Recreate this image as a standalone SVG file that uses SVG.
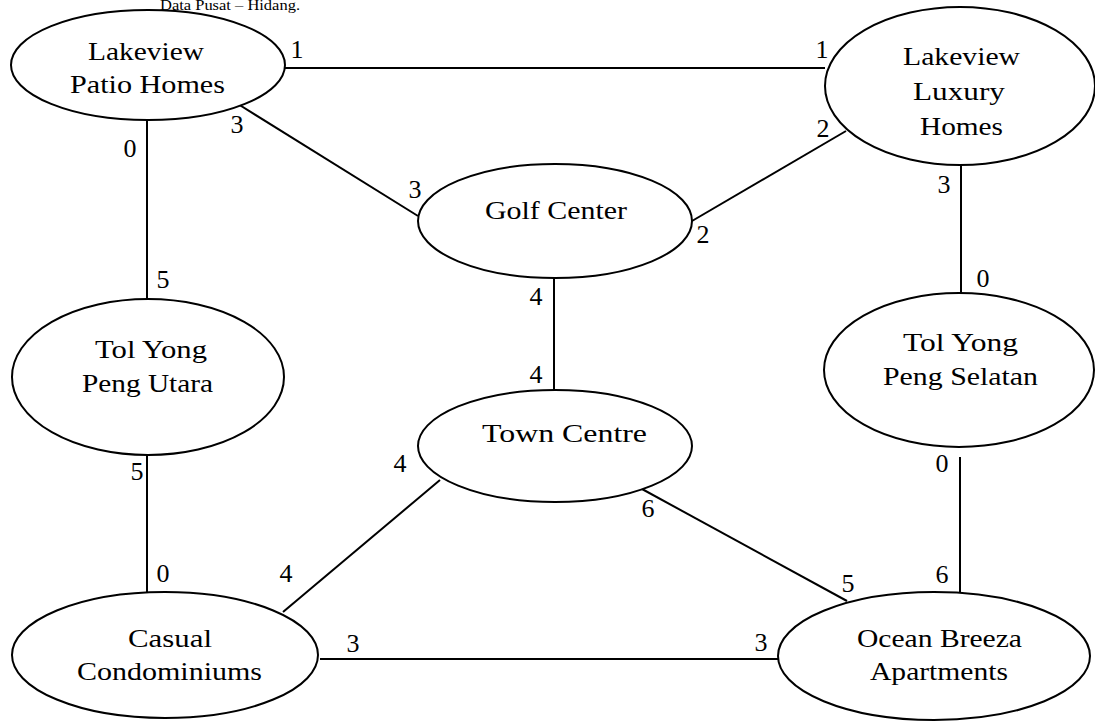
<svg xmlns="http://www.w3.org/2000/svg" width="1095" height="726" viewBox="0 0 1095 726" font-family="'Liberation Serif','Times New Roman',serif">
<style>
.n{fill:#fff;stroke:#000;stroke-width:2}
.e{stroke:#000;stroke-width:2;fill:none}
text{font-family:'Liberation Serif','Times New Roman',serif;font-size:26px;fill:#000}
.t{text-anchor:middle}
.cap{font-size:14px}
</style>
<rect width="1095" height="726" fill="#fff"/>
<text class="cap" x="160" y="10" textLength="140" lengthAdjust="spacingAndGlyphs">Data Pusat – Hidang.</text>
<g id="connectors">
<line class="e" x1="285" y1="68" x2="825" y2="68"/>
<line class="e" x1="238" y1="104" x2="418" y2="216"/>
<line class="e" x1="846" y1="131" x2="692" y2="221"/>
<line class="e" x1="147" y1="120" x2="147" y2="300"/>
<line class="e" x1="554" y1="278" x2="554" y2="390"/>
<line class="e" x1="961" y1="164" x2="961" y2="297"/>
<line class="e" x1="960" y1="457" x2="960" y2="593"/>
<line class="e" x1="147" y1="455" x2="147" y2="593"/>
<line class="e" x1="440" y1="480" x2="283" y2="612"/>
<line class="e" x1="642" y1="489" x2="847" y2="601"/>
<line class="e" x1="320" y1="659" x2="779" y2="659"/>
<g id="labels">
<text class="t" x="297" y="58">1</text>
<text class="t" x="822" y="58">1</text>
<text class="t" x="237" y="133">3</text>
<text class="t" x="130" y="157">0</text>
<text class="t" x="823" y="137">2</text>
<text class="t" x="415" y="198">3</text>
<text class="t" x="703" y="243">2</text>
<text class="t" x="944" y="193">3</text>
<text class="t" x="163" y="288">5</text>
<text class="t" x="536" y="305">4</text>
<text class="t" x="536" y="383">4</text>
<text class="t" x="983" y="287">0</text>
<text class="t" x="137" y="480">5</text>
<text class="t" x="942" y="472">0</text>
<text class="t" x="400" y="472">4</text>
<text class="t" x="648" y="517">6</text>
<text class="t" x="163" y="582">0</text>
<text class="t" x="286" y="582">4</text>
<text class="t" x="848" y="592">5</text>
<text class="t" x="942" y="583">6</text>
<text class="t" x="353" y="652">3</text>
<text class="t" x="761" y="651">3</text>
</g>
</g>
<g id="lakeview-patio-homes">
<ellipse class="n" cx="148" cy="65" rx="137" ry="55"/>
<text x="88" y="60" textLength="116" lengthAdjust="spacingAndGlyphs">Lakeview</text>
<text x="70" y="93" textLength="155" lengthAdjust="spacingAndGlyphs">Patio Homes</text>
</g>
<g id="lakeview-luxury-homes">
<ellipse class="n" cx="960" cy="86" rx="135" ry="79"/>
<text x="903" y="65" textLength="117" lengthAdjust="spacingAndGlyphs">Lakeview</text>
<text x="913" y="100" textLength="92" lengthAdjust="spacingAndGlyphs">Luxury</text>
<text x="920" y="135" textLength="83" lengthAdjust="spacingAndGlyphs">Homes</text>
</g>
<g id="golf-center">
<ellipse class="n" cx="555" cy="221" rx="137" ry="57"/>
<text x="485" y="219" textLength="142" lengthAdjust="spacingAndGlyphs">Golf Center</text>
</g>
<g id="town-centre">
<ellipse class="n" cx="555" cy="446" rx="137" ry="56"/>
<text x="482" y="442" textLength="165" lengthAdjust="spacingAndGlyphs">Town Centre</text>
</g>
<g id="tol-yong-peng-utara">
<ellipse class="n" cx="148" cy="377" rx="136" ry="78"/>
<text x="95" y="358" textLength="112" lengthAdjust="spacingAndGlyphs">Tol Yong</text>
<text x="82" y="392" textLength="131" lengthAdjust="spacingAndGlyphs">Peng Utara</text>
</g>
<g id="tol-yong-peng-selatan">
<ellipse class="n" cx="959" cy="370" rx="135" ry="77"/>
<text x="903" y="351" textLength="115" lengthAdjust="spacingAndGlyphs">Tol Yong</text>
<text x="883" y="385" textLength="155" lengthAdjust="spacingAndGlyphs">Peng Selatan</text>
</g>
<g id="casual-condominiums">
<ellipse class="n" cx="165" cy="655" rx="153" ry="63"/>
<text x="128" y="647" textLength="84" lengthAdjust="spacingAndGlyphs">Casual</text>
<text x="77" y="680" textLength="185" lengthAdjust="spacingAndGlyphs">Condominiums</text>
</g>
<g id="ocean-breeza-apartments">
<ellipse class="n" cx="934" cy="656" rx="156" ry="64"/>
<text x="857" y="647" textLength="165" lengthAdjust="spacingAndGlyphs">Ocean Breeza</text>
<text x="870" y="680" textLength="138" lengthAdjust="spacingAndGlyphs">Apartments</text>
</g>
</svg>
